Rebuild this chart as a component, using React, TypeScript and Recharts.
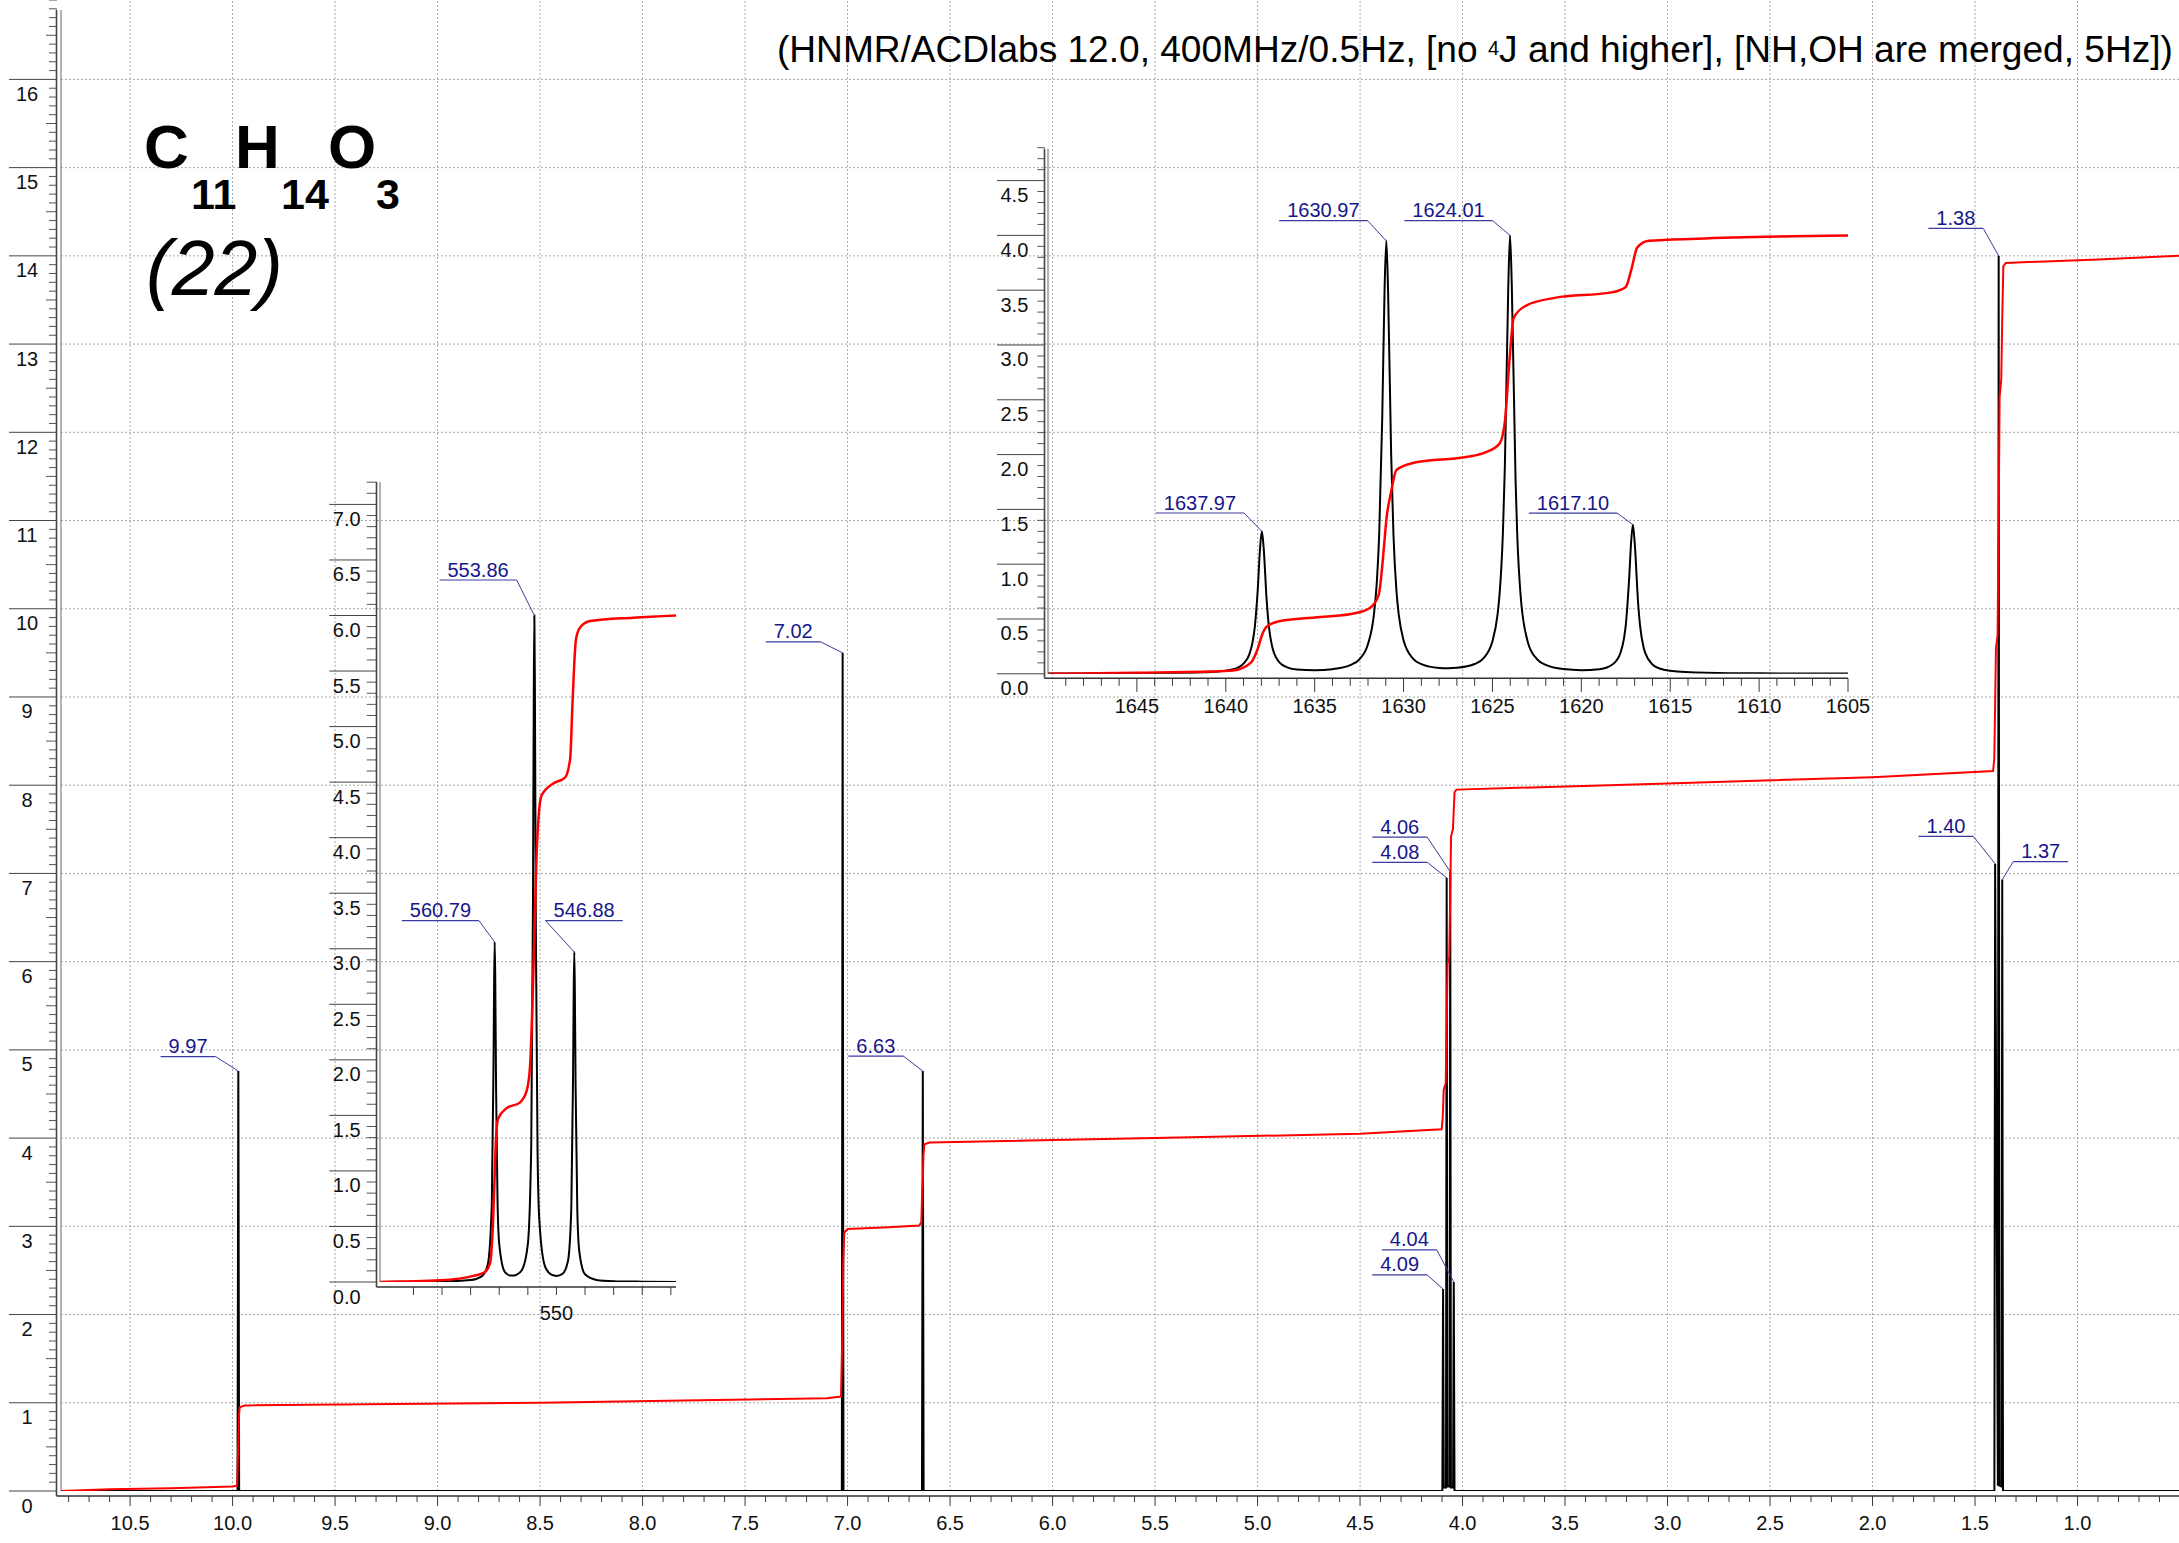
import React from 'react';
import { ComposedChart, Line, XAxis, YAxis, ReferenceLine, Scatter } from 'recharts';

const W = 2179;
const H = 1543;
const FONT = '"Liberation Sans", Arial, Helvetica, sans-serif';
const LABEL_BLUE = '#16168a';
const LEADER_BLUE = '#3a3aa0';
const AXIS_COLOR = '#3a3a3a';
const GRID_COLOR = '#a8a8a8';

// ---------------- Main spectrum (ppm) ----------------
const mainXLabels = [10.5, 10.0, 9.5, 9.0, 8.5, 8.0, 7.5, 7.0, 6.5, 6.0, 5.5, 5.0, 4.5, 4.0, 3.5, 3.0, 2.5, 2.0, 1.5, 1.0];
const mainYLabels = [0, 1, 2, 3, 4, 5, 6, 7, 8, 9, 10, 11, 12, 13, 14, 15, 16];
const mainGridX = [10.5, 10.0, 9.5, 9.0, 8.5, 8.0, 7.5, 7.0, 6.5, 6.0, 5.5, 5.0, 4.5, 4.0, 3.5, 3.0, 2.5, 2.0, 1.5, 1.0];
const mainGridY = [1, 2, 3, 4, 5, 6, 7, 8, 9, 10, 11, 12, 13, 14, 15, 16];

const mainPeakPpm = [9.972, 7.024, 6.633, 4.0949, 4.0774, 4.06, 4.0428, 1.402, 1.3847, 1.3672];
const mainPeakHeight = [4.76, 9.5, 4.76, 2.29, 6.95, 7.02, 2.37, 7.11, 14.0, 6.93];
const mainPeakText = ['9.97', '7.02', '6.63', '4.09', '4.08', '4.06', '4.04', '1.40', '1.38', '1.37'];

// spectrum trace: [ppm, intensity]
const mainSpectrum: [number, number][] = [
  [10.837, 0], [9.976, 0], [9.972, 4.76], [9.968, 0],
  [7.028, 0], [7.024, 9.5], [7.02, 0],
  [6.637, 0], [6.633, 4.76], [6.629, 0],
  [4.0985, 0], [4.0949, 2.29], [4.0915, 0.04], [4.0808, 0.04], [4.0774, 6.95], [4.074, 0.05],
  [4.0634, 0.05], [4.06, 7.02], [4.0566, 0.04], [4.0462, 0.04], [4.0428, 2.37], [4.0392, 0],
  [1.4056, 0], [1.402, 7.11], [1.3885, 0.06], [1.3847, 14.0], [1.381, 0.06], [1.3708, 0.05],
  [1.3672, 6.93], [1.3636, 0], [0.505, 0],
];

// integral trace: [ppm, value]
const mainIntegral: [number, number][] = [
  [10.837, 0.0], [10.6, 0.02], [10.3, 0.03], [10.0, 0.05], [9.978, 0.06], [9.975, 0.3], [9.972, 0.55],
  [9.969, 0.85], [9.965, 0.95], [9.94, 0.97], [8.5, 1.0], [7.1, 1.05], [7.032, 1.07], [7.027, 1.6],
  [7.024, 2.05], [7.021, 2.6], [7.016, 2.93], [7.0, 2.97], [6.8, 2.99], [6.65, 3.01], [6.64, 3.05],
  [6.636, 3.4], [6.633, 3.5], [6.63, 3.8], [6.625, 3.93], [6.6, 3.95], [5.5, 4.0], [4.5, 4.05],
  [4.102, 4.1], [4.0975, 4.2], [4.0949, 4.34], [4.092, 4.55], [4.082, 4.62], [4.0774, 5.3],
  [4.073, 5.98], [4.065, 6.05], [4.06, 6.75], [4.056, 7.42], [4.047, 7.5], [4.0428, 7.72],
  [4.039, 7.92], [4.03, 7.95], [3.0, 8.02], [2.0, 8.09], [1.412, 8.16], [1.406, 8.3], [1.402, 8.9],
  [1.398, 9.55], [1.39, 9.7], [1.3847, 11.05], [1.38, 12.4], [1.372, 12.6], [1.3672, 13.3],
  [1.362, 13.88], [1.35, 13.92], [0.9, 13.96], [0.505, 14.0],
];

// ---------------- Inset 1 (Hz, triplet at 1.38 ppm) ----------------
const inset1XLabels = [550];
const inset1XTicks = [575, 570, 565, 560, 555, 550, 545, 540, 535, 530];
const inset1YLabels = [0, 0.5, 1, 1.5, 2, 2.5, 3, 3.5, 4, 4.5, 5, 5.5, 6, 6.5, 7];
const inset1PeakHz = [560.79, 553.86, 546.88];
const inset1PeakHeight = [3.06, 6.0, 2.97];
const inset1PeakText = ['560.79', '553.86', '546.88'];
const inset1Spectrum: [number, number][] = [
  [580.8, 0.001], [575, 0.003], [570, 0.005], [565, 0.017], [563, 0.053], [562, 0.158],
  [561.3, 0.698], [561.0, 1.94], [560.89, 2.7], [560.79, 3.06], [560.69, 2.7], [560.55, 1.75],
  [560.3, 0.743], [560, 0.344], [559, 0.089], [558, 0.058], [557.3, 0.059], [557, 0.064],
  [556, 0.11], [555, 0.34], [554.4, 1.244], [554.1, 3.42], [553.96, 5.3], [553.86, 6.0],
  [553.76, 5.3], [553.6, 3.18], [553.3, 1.177], [553, 0.567], [552, 0.14], [551, 0.07],
  [550.4, 0.058], [550, 0.055], [549, 0.07], [548, 0.184], [547.4, 0.665], [547.1, 1.83],
  [546.98, 2.62], [546.88, 2.97], [546.78, 2.62], [546.65, 1.76], [546.35, 0.643], [546, 0.273],
  [545, 0.069], [543, 0.019], [540, 0.0075], [535, 0.003], [529.1, 0.001],
];
const inset1Integral: [number, number][] = [
  [580.8, 0], [570.3, 0.015], [564.5, 0.055], [562.5, 0.09], [561.6, 0.17], [561.1, 0.52],
  [560.8, 0.95], [560.6, 1.25], [560.2, 1.47], [558.7, 1.565], [556.4, 1.615], [555.2, 1.72],
  [554.6, 1.95], [554.2, 2.5], [553.86, 3.1], [553.5, 3.8], [553.1, 4.2], [552.6, 4.38],
  [550.5, 4.49], [548.5, 4.54], [547.6, 4.71], [547.2, 5.2], [546.9, 5.55], [546.6, 5.78],
  [545.9, 5.89], [544.1, 5.95], [536.6, 5.98], [529.1, 6.0],
];

// ---------------- Inset 2 (Hz, quartet at 4.06 ppm) ----------------
const inset2XLabels = [1645, 1640, 1635, 1630, 1625, 1620, 1615, 1610, 1605];
const inset2YLabels = [0, 0.5, 1, 1.5, 2, 2.5, 3, 3.5, 4, 4.5];
const inset2PeakHz = [1637.97, 1630.97, 1624.01, 1617.1];
const inset2PeakHeight = [1.3, 3.95, 4.0, 1.36];
const inset2PeakText = ['1637.97', '1630.97', '1624.01', '1617.10'];
const inset2Spectrum: [number, number][] = [
  [1650, 0.002], [1645, 0.004], [1641, 0.015], [1640, 0.029], [1639.47, 0.046], [1639, 0.093],
  [1638.67, 0.18], [1638.5, 0.283], [1638.37, 0.423], [1638.2, 0.772], [1638.07, 1.15], [1637.97, 1.3],
  [1637.87, 1.15], [1637.7, 0.67], [1637.57, 0.426], [1637.4, 0.255], [1637.27, 0.183], [1637, 0.107],
  [1636.47, 0.054], [1636, 0.039], [1635, 0.032], [1634, 0.042], [1633, 0.079], [1632.47, 0.135],
  [1632, 0.271], [1631.67, 0.537], [1631.5, 0.845], [1631.37, 1.276], [1631.2, 2.33], [1631.07, 3.49],
  [1630.97, 3.95], [1630.87, 3.49], [1630.7, 2.02], [1630.57, 1.277], [1630.4, 0.757], [1630.27, 0.539],
  [1630, 0.305], [1629.47, 0.139], [1629, 0.089], [1628, 0.054], [1627.5, 0.051], [1627, 0.055],
  [1626, 0.089], [1625.51, 0.141], [1625, 0.297], [1624.71, 0.545], [1624.6, 0.724], [1624.41, 1.294],
  [1624.3, 1.9], [1624.11, 3.53], [1624.01, 4.0], [1623.91, 3.53], [1623.7, 1.77], [1623.61, 1.291],
  [1623.4, 0.684], [1623.31, 0.542], [1623, 0.284], [1622.51, 0.137], [1622, 0.082], [1621, 0.043],
  [1620, 0.033], [1619, 0.042], [1618.6, 0.055], [1618, 0.126], [1617.8, 0.19], [1617.6, 0.324],
  [1617.5, 0.445], [1617.3, 0.9], [1617.2, 1.2], [1617.1, 1.36], [1617.0, 1.2], [1616.8, 0.63],
  [1616.7, 0.444], [1616.5, 0.243], [1616.4, 0.189], [1616, 0.085], [1615.6, 0.048], [1615, 0.028],
  [1613, 0.01], [1610, 0.004], [1605, 0.002],
];
const inset2Integral: [number, number][] = [
  [1650, 0], [1645, 0.01], [1641, 0.02], [1639.6, 0.03], [1638.6, 0.1], [1638.2, 0.23],
  [1637.97, 0.35], [1637.7, 0.43], [1637.0, 0.48], [1634.5, 0.52], [1632.8, 0.55], [1631.9, 0.6],
  [1631.4, 0.72], [1631.1, 1.16], [1630.97, 1.4], [1630.7, 1.66], [1630.4, 1.86], [1629.3, 1.93],
  [1626.4, 1.98], [1625.4, 2.02], [1624.6, 2.1], [1624.3, 2.3], [1624.05, 2.84], [1623.8, 3.25],
  [1623.1, 3.36], [1621.5, 3.43], [1618.3, 3.48], [1617.5, 3.53], [1617.2, 3.68], [1616.85, 3.89],
  [1616.2, 3.95], [1613.5, 3.97], [1605, 4.0],
];

// ---------------- Label leader layout (pixel offsets from peak top) ----------------
const mainLabelLayout: [number, number, 'L' | 'R'][] = [
  [-22.8, -14.5, 'L'], [-22, -11, 'L'], [-19.5, -15, 'L'], [-16, -14, 'L'], [-19.4, -15.5, 'L'],
  [-23, -34.5, 'L'], [-17, -32, 'L'], [-21.7, -27.3, 'L'], [-15.4, -27.4, 'L'], [11, -18, 'R'],
];
const inset1LabelLayout: [number, number, 'L' | 'R'][] = [
  [-15.7, -21.4, 'L'], [-17.7, -35.5, 'L'], [-28.7, -31.4, 'R'],
];
const inset2LabelLayout: [number, number, 'L' | 'R'][] = [
  [-17.8, -18.3, 'L'], [-18.8, -20.2, 'L'], [-17.4, -14.7, 'L'], [-15.8, -11.7, 'L'],
];

// ---------------- helpers ----------------
const seq = (a: number, b: number, step: number) => {
  const out: number[] = [];
  const n = Math.round((b - a) / step);
  for (let i = 0; i <= n; i++) out.push(Math.round((a + i * step) * 1000) / 1000);
  return out;
};
const isMult = (v: number, m: number) => Math.abs(v / m - Math.round(v / m)) < 1e-6;
const inList = (v: number, list: number[]) => list.some((l) => Math.abs(l - v) < 1e-6);
const toXY = (arr: [number, number][]) => arr.map(([x, y]) => ({ x, y }));
const buildPeaks = (xs: number[], hs: number[], texts: string[], layout: [number, number, 'L' | 'R'][]) =>
  xs.map((x, i) => ({ x, y: hs[i], text: texts[i], ax: layout[i][0], ay: layout[i][1], side: layout[i][2] }));

const textWidth = (s: string, fs: number) => {
  let w = 0;
  for (const c of s) w += c === '.' ? 0.278 : 0.556;
  return w * fs;
};

const PeakLabel = (props: any) => {
  const { cx, cy, payload } = props;
  if (cx == null || cy == null || !payload) return <g />;
  const fs = 20;
  const w = textWidth(payload.text, fs) + 16;
  const axp = cx + payload.ax;
  const ayp = cy + payload.ay;
  const ux1 = payload.side === 'L' ? axp - w : axp;
  const ux2 = payload.side === 'L' ? axp : axp + w;
  return (
    <g>
      <line x1={cx} y1={cy} x2={axp} y2={ayp} stroke={LEADER_BLUE} strokeWidth={1} />
      <line x1={ux1} y1={ayp} x2={ux2} y2={ayp} stroke={LEADER_BLUE} strokeWidth={1.2} />
      <text x={(ux1 + ux2) / 2} y={ayp - 3.5} textAnchor="middle" fontSize={fs} fontFamily={FONT} fill={LABEL_BLUE}>
        {payload.text}
      </text>
    </g>
  );
};

// ---------------- tick renderers ----------------
const MainXTick = (props: any) => {
  const { x, y, payload } = props;
  const v = payload.value;
  const major = isMult(v, 0.5);
  return (
    <g>
      <line x1={x} x2={x} y1={y + 5} y2={y + 5 + (major ? 10 : 6)} stroke={AXIS_COLOR} strokeWidth={1} />
      {inList(v, mainXLabels) && (
        <text x={x} y={y + 39} textAnchor="middle" fontSize={20} fontFamily={FONT} fill="#111">
          {v.toFixed(1)}
        </text>
      )}
    </g>
  );
};
const MainYTick = (props: any) => {
  const { x, y, payload } = props;
  const v = payload.value;
  const major = inList(v, mainYLabels);
  const half = isMult(v, 0.5);
  return (
    <g>
      <line x1={major ? x - 52 : half ? x - 15 : x - 12} x2={x - 4} y1={y} y2={y} stroke={major ? '#444' : '#555'} strokeWidth={1} />
      {major && (
        <text x={x - 34} y={y + 21.5} textAnchor="middle" fontSize={20} fontFamily={FONT} fill="#111">
          {String(v)}
        </text>
      )}
    </g>
  );
};
const makeInsetYTick = (labels: number[], longLen: number, shortLen: number, labelDx: number) => (props: any) => {
  const { x, y, payload } = props;
  const v = payload.value;
  const major = inList(v, labels);
  return (
    <g>
      <line x1={major ? x - longLen : x - shortLen} x2={x - 3} y1={y} y2={y} stroke={major ? '#444' : '#555'} strokeWidth={1} />
      {major && (
        <text x={x - labelDx} y={y + 21.5} textAnchor="middle" fontSize={20} fontFamily={FONT} fill="#111">
          {v.toFixed(1)}
        </text>
      )}
    </g>
  );
};
const Inset1YTick = makeInsetYTick(inset1YLabels, 50.7, 13.3, 33.3);
const Inset2YTick = makeInsetYTick(inset2YLabels, 51, 10.6, 33.6);

const Inset1XTick = (props: any) => {
  const { x, y, payload } = props;
  const v = payload.value;
  return (
    <g>
      <line x1={x} x2={x} y1={y + 5} y2={y + 13} stroke={AXIS_COLOR} strokeWidth={1} />
      {inList(v, inset1XLabels) && (
        <text x={x} y={y + 38} textAnchor="middle" fontSize={20} fontFamily={FONT} fill="#111">
          {String(v)}
        </text>
      )}
    </g>
  );
};
const Inset2XTick = (props: any) => {
  const { x, y, payload } = props;
  const v = payload.value;
  const major = isMult(v, 5);
  return (
    <g>
      <line x1={x} x2={x} y1={y + 4.5} y2={y + (major ? 18 : 12)} stroke={AXIS_COLOR} strokeWidth={1} />
      {inList(v, inset2XLabels) && (
        <text x={x} y={y + 39} textAnchor="middle" fontSize={20} fontFamily={FONT} fill="#111">
          {String(v)}
        </text>
      )}
    </g>
  );
};

// ---------------- frames (plot-area geometry) ----------------
const MAIN = { left: 61, right: W, top: 0, bottom: 1491 };
const IN1 = { left: 380, right: 676, top: 482.2, bottom: 1282 };
const IN2 = { left: 1048, right: 1848, top: 147.7, bottom: 673.8 };

const layer: React.CSSProperties = { position: 'absolute', left: 0, top: 0, width: W, height: H };

export default function App() {
  const mainSpec = toXY(mainSpectrum);
  const mainInt = toXY(mainIntegral);
  const in1Spec = toXY(inset1Spectrum);
  const in1Int = toXY(inset1Integral);
  const in2Spec = toXY(inset2Spectrum);
  const in2Int = toXY(inset2Integral);
  const mainPeaks = buildPeaks(mainPeakPpm, mainPeakHeight, mainPeakText, mainLabelLayout);
  const in1Peaks = buildPeaks(inset1PeakHz, inset1PeakHeight, inset1PeakText, inset1LabelLayout);
  const in2Peaks = buildPeaks(inset2PeakHz, inset2PeakHeight, inset2PeakText, inset2LabelLayout);

  return (
    <div style={{ position: 'absolute', left: 0, top: 0, width: W, height: H, background: '#fff', overflow: 'hidden', fontFamily: FONT }}>
      {/* main chart */}
      <div style={layer}>
        <ComposedChart width={W} height={H} margin={{ top: MAIN.top, right: W - MAIN.right, bottom: H - MAIN.bottom - 40, left: 0 }}>
          <XAxis
            type="number"
            dataKey="x"
            domain={[0.505, 10.837]}
            reversed
            allowDataOverflow
            ticks={seq(0.6, 10.8, 0.1)}
            interval={0}
            tick={<MainXTick />}
            tickLine={false}
            axisLine={false}
            tickSize={0}
            tickMargin={0}
            height={40}
          />
          <YAxis
            type="number"
            domain={[0, 16.9]}
            allowDataOverflow
            ticks={seq(0, 16.9, 0.1)}
            interval={0}
            tick={<MainYTick />}
            tickLine={false}
            axisLine={false}
            tickSize={0}
            tickMargin={0}
            width={MAIN.left}
          />
          {mainGridX.map((v) => (
            <ReferenceLine key={'gx' + v} x={v} stroke={GRID_COLOR} strokeDasharray="2 2" strokeWidth={1} />
          ))}
          {mainGridY.map((v) => (
            <ReferenceLine key={'gy' + v} y={v} stroke={GRID_COLOR} strokeDasharray="2 2" strokeWidth={1} />
          ))}
          <Line data={mainSpec} dataKey="y" type="linear" stroke="#000" strokeWidth={2} dot={false} activeDot={false} isAnimationActive={false} />
          <Line data={mainInt} dataKey="y" type="linear" stroke="#ff0000" strokeWidth={2} dot={false} activeDot={false} isAnimationActive={false} />
          <Scatter data={mainPeaks} dataKey="y" shape={PeakLabel} isAnimationActive={false} />
        </ComposedChart>
      </div>

      {/* inset 1 */}
      <div style={layer}>
        <ComposedChart width={W} height={H} margin={{ top: IN1.top, right: W - IN1.right, bottom: H - IN1.bottom - 40, left: IN1.left - 58 }}>
          <XAxis
            type="number"
            dataKey="x"
            domain={[529.1, 580.84]}
            reversed
            allowDataOverflow
            ticks={inset1XTicks}
            interval={0}
            tick={<Inset1XTick />}
            tickLine={false}
            axisLine={false}
            tickSize={0}
            tickMargin={0}
            height={40}
          />
          <YAxis
            type="number"
            domain={[0, 7.2]}
            allowDataOverflow
            ticks={seq(0, 7.2, 0.1)}
            interval={0}
            tick={<Inset1YTick />}
            tickLine={false}
            axisLine={false}
            tickSize={0}
            tickMargin={0}
            width={58}
          />
          <Line data={in1Spec} dataKey="y" type="monotone" stroke="#000" strokeWidth={2} dot={false} activeDot={false} isAnimationActive={false} />
          <Line data={in1Int} dataKey="y" type="monotone" stroke="#ff0000" strokeWidth={2.5} dot={false} activeDot={false} isAnimationActive={false} />
          <Scatter data={in1Peaks} dataKey="y" shape={PeakLabel} isAnimationActive={false} />
        </ComposedChart>
      </div>

      {/* inset 2 */}
      <div style={layer}>
        <ComposedChart width={W} height={H} margin={{ top: IN2.top, right: W - IN2.right, bottom: H - IN2.bottom - 40, left: IN2.left - 58 }}>
          <XAxis
            type="number"
            dataKey="x"
            domain={[1605, 1650]}
            reversed
            allowDataOverflow
            ticks={seq(1605, 1649, 1)}
            interval={0}
            tick={<Inset2XTick />}
            tickLine={false}
            axisLine={false}
            tickSize={0}
            tickMargin={0}
            height={40}
          />
          <YAxis
            type="number"
            domain={[0, 4.8]}
            allowDataOverflow
            ticks={seq(0, 4.8, 0.1)}
            interval={0}
            tick={<Inset2YTick />}
            tickLine={false}
            axisLine={false}
            tickSize={0}
            tickMargin={0}
            width={58}
          />
          <Line data={in2Spec} dataKey="y" type="monotone" stroke="#000" strokeWidth={2} dot={false} activeDot={false} isAnimationActive={false} />
          <Line data={in2Int} dataKey="y" type="monotone" stroke="#ff0000" strokeWidth={2.5} dot={false} activeDot={false} isAnimationActive={false} />
          <Scatter data={in2Peaks} dataKey="y" shape={PeakLabel} isAnimationActive={false} />
        </ComposedChart>
      </div>

      {/* frames, title, formula */}
      <svg width={W} height={H} style={{ ...layer, pointerEvents: 'none' }}>
        {/* main axes */}
        <line x1={MAIN.left - 4.5} x2={MAIN.left - 4.5} y1={10} y2={MAIN.bottom + 5} stroke="#444" strokeWidth={1.6} />
        <line x1={MAIN.left} x2={MAIN.left} y1={10} y2={MAIN.bottom} stroke="#666" strokeWidth={1} />
        <line x1={MAIN.left - 4.5} x2={MAIN.right} y1={MAIN.bottom + 5} y2={MAIN.bottom + 5} stroke="#333" strokeWidth={1.4} />
        {/* inset 1 axes */}
        <line x1={IN1.left - 3.5} x2={IN1.left - 3.5} y1={IN1.top} y2={IN1.bottom + 5} stroke="#444" strokeWidth={1.6} />
        <line x1={IN1.left} x2={IN1.left} y1={IN1.top} y2={IN1.bottom} stroke="#666" strokeWidth={1} />
        <line x1={IN1.left - 3.5} x2={IN1.right} y1={IN1.bottom + 5} y2={IN1.bottom + 5} stroke="#333" strokeWidth={1.4} />
        {/* inset 2 axes */}
        <line x1={IN2.left - 3.5} x2={IN2.left - 3.5} y1={IN2.top + 1} y2={IN2.bottom + 4.5} stroke="#444" strokeWidth={1.6} />
        <line x1={IN2.left} x2={IN2.left} y1={IN2.top + 1} y2={IN2.bottom} stroke="#666" strokeWidth={1} />
        <line x1={IN2.left - 3.5} x2={IN2.right} y1={IN2.bottom + 4.5} y2={IN2.bottom + 4.5} stroke="#333" strokeWidth={1.4} />

        {/* title */}
        <text x={777} y={62} fontSize={37.1} fontFamily={FONT} fill="#000">
          (HNMR/ACDlabs 12.0, 400MHz/0.5Hz, [no <tspan fontSize={20} dy={-7}>4</tspan>
          <tspan dy={7}>J and higher], [NH,OH are merged, 5Hz])</tspan>
        </text>

        {/* formula */}
        <g fontFamily={FONT} fontWeight="bold" fill="#000">
          <text x={144} y={168} fontSize={62}>C</text>
          <text x={191} y={209} fontSize={43}>11</text>
          <text x={235} y={168} fontSize={62}>H</text>
          <text x={281} y={209} fontSize={43}>14</text>
          <text x={328} y={168} fontSize={62}>O</text>
          <text x={376} y={209} fontSize={43}>3</text>
        </g>
        <text x={146} y={295} fontSize={77} fontStyle="italic" fontFamily={FONT} fill="#000">(22)</text>
      </svg>
    </div>
  );
}
